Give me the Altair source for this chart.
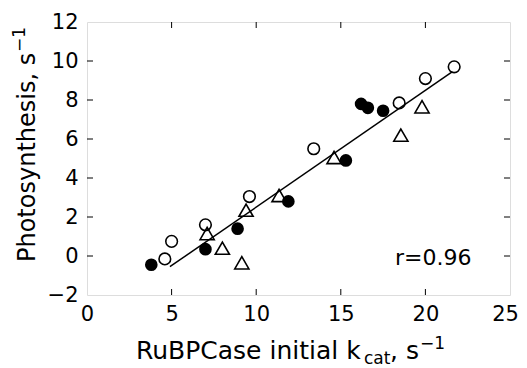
import altair as alt
import pandas as pd

# Data
filled_x = [3.8, 7.0, 8.9, 11.9, 15.3, 16.2, 16.6, 17.5]
filled_y = [-0.45, 0.35, 1.4, 2.8, 4.9, 7.8, 7.6, 7.45]
open_x = [4.6, 5.0, 7.0, 9.6, 13.4, 18.45, 20.0, 21.7]
open_y = [-0.15, 0.75, 1.6, 3.05, 5.5, 7.85, 9.1, 9.7]
tri_x = [7.1, 8.0, 9.15, 9.4, 11.35, 14.6, 18.55, 19.8]
tri_y = [1.15, 0.4, -0.35, 2.35, 3.1, 5.05, 6.2, 7.65]
fit_x = [4.9, 21.6]
fit_y = [-0.55, 9.45]

x_ticks = [0, 5, 10, 15, 20, 25]
y_ticks = [-2, 0, 2, 4, 6, 8, 10, 12]
x_inner_ticks = [5, 10, 15, 20]
y_inner_ticks = [0, 2, 4, 6, 8, 10]

W, H = 423, 273
FONT = "DejaVu Sans"

xs = alt.Scale(domain=[0, 25], nice=False, zero=False)
ys = alt.Scale(domain=[-2, 12], nice=False, zero=False)

x_axis = alt.Axis(values=x_ticks, ticks=False, domain=False, grid=False,
                  labelFont=FONT, labelFontSize=21, labelColor="black",
                  labelPadding=8, labelOverlap=False, labelFlush=False,
                  labelOffset={"condition": {"test": "datum.value == 25", "value": -5},
                               "value": 0},
                  title=None)
y_axis = alt.Axis(values=y_ticks, ticks=False, domain=False, grid=False,
                  labelFont=FONT, labelFontSize=21, labelColor="black",
                  labelPadding=9, labelOverlap=False, labelFlush=False,
                  title=None)

def X(f):
    return alt.X(f, scale=xs, axis=x_axis)

def Y(f):
    return alt.Y(f, scale=ys, axis=y_axis)

df_f = pd.DataFrame({"x": filled_x, "y": filled_y})
df_o = pd.DataFrame({"x": open_x, "y": open_y})
df_t = pd.DataFrame({"x": tri_x, "y": tri_y})
df_fit = pd.DataFrame({"x": fit_x, "y": fit_y})
df_xt = pd.DataFrame({"v": x_inner_ticks})
df_yt = pd.DataFrame({"v": y_inner_ticks})
one = pd.DataFrame({"a": [0]})

fit = alt.Chart(df_fit).mark_line(color="black", strokeWidth=1.5).encode(
    x=X("x:Q"), y=Y("y:Q"))

tri = alt.Chart(df_t).mark_point(shape="triangle-up", filled=False, color="black",
                                 strokeWidth=1.6, size=200, opacity=1).encode(
    x=X("x:Q"), y=Y("y:Q"))

opn = alt.Chart(df_o).mark_point(shape="circle", filled=False, color="black",
                                 strokeWidth=1.6, size=135, opacity=1).encode(
    x=X("x:Q"), y=Y("y:Q"))

fil = alt.Chart(df_f).mark_point(shape="circle", filled=True, color="black",
                                 size=160, opacity=1).encode(
    x=X("x:Q"), y=Y("y:Q"))

tick_bottom = alt.Chart(df_xt).mark_rule(color="black", strokeWidth=1).encode(
    x=X("v:Q"), y=alt.value(H), y2=alt.value(H - 6))
tick_top = alt.Chart(df_xt).mark_rule(color="black", strokeWidth=1).encode(
    x=X("v:Q"), y=alt.value(0), y2=alt.value(6))
tick_left = alt.Chart(df_yt).mark_rule(color="black", strokeWidth=1).encode(
    y=Y("v:Q"), x=alt.value(0), x2=alt.value(6))
tick_right = alt.Chart(df_yt).mark_rule(color="black", strokeWidth=1).encode(
    y=Y("v:Q"), x=alt.value(W), x2=alt.value(W - 6))

def txt(s, x, y, size, align="left", angle=0, baseline="alphabetic"):
    kw = dict(text=s, font=FONT, fontSize=size, color="black", align=align,
              baseline=baseline)
    if angle:
        kw["angle"] = angle
    return alt.Chart(one).mark_text(**kw).encode(x=alt.value(x), y=alt.value(y))

title_y = 337
x_title = (
    txt("RuBPCase initial k", 49, title_y, 25)
    + txt("cat", 277, title_y + 5, 17)
    + txt(", s", 303, title_y, 25)
    + txt("\u22121", 333, title_y - 10, 17)
)
y_title = (
    txt("Photosynthesis, s", -52, 240, 24, align="left", angle=270)
    + txt("\u22121", -62, 30, 17, align="left", angle=270)
)
r_text = txt("r=0.96", 308, 243, 22)

chart = alt.layer(
    fit, tick_bottom, tick_top, tick_left, tick_right,
    tri, opn, fil, r_text, x_title, y_title,
).properties(
    width=W, height=H,
    autosize=alt.AutoSizeParams(type="none"),
    padding={"left": 79, "top": 14, "right": 9, "bottom": 73},
).configure_view(stroke="black", strokeWidth=1.2).configure(background="white")

chart.save("out.html", embed_options={"renderer": "svg", "actions": False})
